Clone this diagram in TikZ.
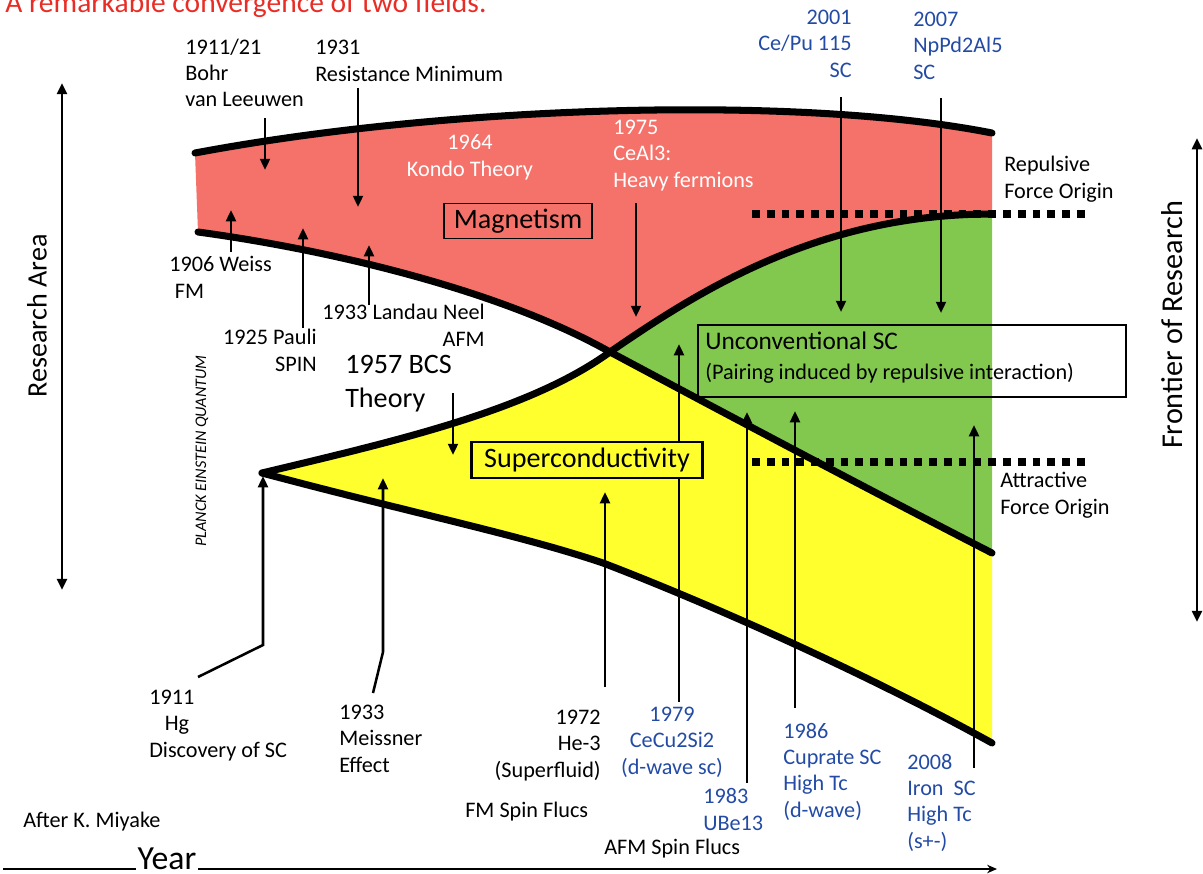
\documentclass[tikz,border=0pt]{standalone}
\usepackage{fontspec}
\setmainfont{Carlito}
\usetikzlibrary{arrows.meta}

\definecolor{magred}{RGB}{245,114,106}
\definecolor{scyellow}{RGB}{255,255,45}
\definecolor{uscgreen}{RGB}{130,199,78}
\definecolor{yrblue}{RGB}{35,75,165}
\definecolor{titlered}{RGB}{232,45,38}

\tikzset{
  lbl/.style={font=\fontsize{15.8}{18.5}\selectfont, inner sep=0pt},
  bluelbl/.style={lbl, text=yrblue},
  biglbl/.style={font=\fontsize{20}{24}\selectfont, inner sep=0pt},
  arr/.style={line width=1.8pt, -{Triangle[length=8pt,width=7pt]}},
  bound/.style={line width=5pt, line cap=round},
  sqdots/.style={line width=5.5pt, dash pattern=on 5.5pt off 5pt},
  axisarr/.style={line width=2pt, {Triangle[length=8pt,width=7pt]}-{Triangle[length=8pt,width=7pt]}}
}

\begin{document}
\begin{tikzpicture}[x=0.025cm, y=-0.025cm]
    \useasboundingbox (0,0) rectangle (1203,874);

    % Title (cut at the top)
    \node[anchor=base west, inner sep=0pt, text=titlered, font=\fontsize{21}{25}\selectfont] (title) at (5,13) {A remarkable convergence of two fields.};

    % Regions
    \fill[magred] (195,153) .. controls (450,105) and (800,95) .. (992,133)
        -- (992,214) .. controls (820,214) and (700,290) .. (610,352)
        .. controls (500,290) and (330,250) .. (198,232) -- cycle;
    \fill[uscgreen] (610,352) .. controls (700,290) and (820,214) .. (992,214)
        -- (992,553) .. controls (850,480) and (700,400) .. (610,352) -- cycle;
    \fill[scyellow] (262,473) .. controls (400,440) and (530,410) .. (610,352)
        .. controls (700,400) and (850,480) .. (992,553) -- (992,743)
        .. controls (860,670) and (700,600) .. (603,563)
        .. controls (520,535) and (420,515) .. (262,473) -- cycle;

    % Boundaries
    \draw[bound] (195,153) .. controls (450,105) and (800,95) .. (992,133);
    \draw[bound] (198,232) .. controls (330,250) and (500,290) .. (610,352)
        .. controls (700,400) and (850,480) .. (992,553);
    \draw[bound] (262,473) .. controls (400,440) and (530,410) .. (610,352)
        .. controls (700,290) and (820,214) .. (992,214);
    \draw[bound] (262,473) .. controls (420,515) and (520,535) .. (603,563)
        .. controls (700,600) and (860,670) .. (992,743);

    % Force origin lines
    \draw[sqdots] (752,214) -- (1085,214);
    \draw[sqdots] (752,462) -- (1085,462);

    % Axes
    \coordinate (raTop) at (62,83);
    \coordinate (raBot) at (62,590);
    \draw[axisarr] (raTop) -- (raBot);
    \node[font=\fontsize{20}{24}\selectfont, rotate=90] (resarea) at (37,316) {Research Area};
    \coordinate (frTop) at (1197,138);
    \coordinate (frBot) at (1197,622);
    \draw[axisarr] (frTop) -- (frBot);
    \node[font=\fontsize{21.5}{25}\selectfont, rotate=90] (frontier) at (1172,325) {Frontier of Research};

    \node[font=\fontsize{24}{28}\selectfont, anchor=base, inner sep=1pt] (year) at (167,869) {Year};
    \coordinate (yearStart) at (3,869);
    \coordinate (yearEnd) at (997,869);
    \draw[line width=1.3pt] (yearStart) -- (year.base west);
    \draw[line width=1.3pt, -{Stealth[length=7pt,width=6pt]}] (year.base east) -- (yearEnd);

    % Labels - magnetism side (anchored at the last line)
    \node[lbl, anchor=base west, align=left] (bohr) at (185,107) {1911/21\\Bohr\\van Leeuwen};
    \node[lbl, anchor=base west, align=left] (resmin) at (315,81) {1931\\Resistance Minimum};
    \node[lbl, anchor=base, align=center, text=white] (kondo) at (470,176) {1964\\Kondo Theory};
    \node[lbl, anchor=base west, align=left, text=white] (ceal) at (613,187) {1975\\CeAl3:\\Heavy fermions};
    \node[bluelbl, anchor=base east, align=right] (cepu) at (852,77) {2001\\Ce/Pu 115\\SC};
    \node[bluelbl, anchor=base west, align=left] (nppd) at (913,79) {2007\\NpPd2Al5\\SC};
    \node[lbl, anchor=base west, align=left] (repul) at (1004,198) {Repulsive\\Force Origin};
    \node[lbl, anchor=base west, align=left] (attr) at (1000,514) {Attractive\\Force Origin};
    \node[lbl, anchor=base west, align=left] (weiss) at (169,298) {1906 Weiss\\\hspace*{4pt}FM};
    \node[lbl, anchor=base east, align=right] (pauli) at (317,371) {1925 Pauli\\SPIN};
    \node[lbl, anchor=base east, align=right] (landau) at (485,346) {1933 Landau Neel\\AFM};
    \node[biglbl, anchor=base west, align=left] (bcs) at (345,407) {1957 BCS\\Theory};
    \node[font=\itshape\fontsize{11.5}{14}\selectfont, rotate=90] (planck) at (202,451) {PLANCK EINSTEIN QUANTUM};

    % Labels - superconductivity side
    \node[lbl, anchor=base west, align=left] (hg) at (149,757) {1911\\\hspace*{11pt}Hg\\Discovery of SC};
    \node[lbl, anchor=base west, align=left] (meiss) at (339,772) {1933\\Meissner\\Effect};
    \node[lbl, anchor=base east, align=right] (he) at (601,777) {1972\\He-3\\(Superfluid)};
    \node[lbl, anchor=base west] (fmsf) at (465,817) {FM Spin Flucs};
    \node[lbl, anchor=base west] (miyake) at (23,827) {After K. Miyake};
    \node[lbl, anchor=base west] (afmsf) at (604,854) {AFM Spin Flucs};
    \node[bluelbl, anchor=base, align=center] (cecu) at (672,774) {1979\\CeCu2Si2\\(d-wave sc)};
    \node[bluelbl, anchor=base west, align=left] (ube) at (703,830) {1983\\UBe13};
    \node[bluelbl, anchor=base west, align=left] (cuprate) at (783,817) {1986\\Cuprate SC\\High Tc\\(d-wave)};
    \node[bluelbl, anchor=base west, align=left] (iron) at (907,848) {2008\\Iron~ SC\\High Tc\\(s+-)};

    % Arrows (name/x/start y/tip y)
    \foreach \n/\x/\ya/\yb in {bohr/265/118/170, resmin/358/88/207, ceal/636/203/317,
        cepu/841/97/312, nppd/941/98/313, bcs/453/393/455, weiss/231/252/210,
        pauli/303/328/228, landau/369/305/245, he/605/687/492, cecu/679/702/344,
        ube/747/783/412, cuprate/795/708/411, iron/974/768/425} {
        \coordinate (\n-s) at (\x,\ya);
        \coordinate (\n-e) at (\x,\yb);
        \draw[arr] (\n-s) -- (\n-e);
    }
    \coordinate (hg-s) at (198,677);
    \coordinate (hg-k) at (263,645);
    \coordinate (hg-e) at (263,476);
    \draw[arr] (hg-s) -- (hg-k) -- (hg-e);
    \coordinate (meiss-s) at (373,693);
    \coordinate (meiss-k) at (383,652);
    \coordinate (meiss-e) at (383,478);
    \draw[arr] (meiss-s) -- (meiss-k) -- (meiss-e);

    % Boxes
    \node[draw, line width=1.2pt, minimum width=3.7cm, minimum height=0.875cm,
        font=\fontsize{20}{24}\selectfont] (magn) at (518,221) {Magnetism};
    \node[draw, line width=2pt, fill=scyellow, minimum width=5.775cm, minimum height=0.9cm,
        font=\fontsize{20}{24}\selectfont] (supc) at (587,460) {Superconductivity};
    \node[draw, line width=0.9pt, minimum width=10.7cm, minimum height=1.8cm] (uncsc) at (912,361) {};
    \node[anchor=base west, align=left, inner sep=0pt, font=\fontsize{18}{21}\selectfont] (uncsctext) at (705,379)
        {Unconventional SC\\{\fontsize{15.8}{18.5}\selectfont (Pairing induced by repulsive interaction)}};
\end{tikzpicture}
\end{document}
